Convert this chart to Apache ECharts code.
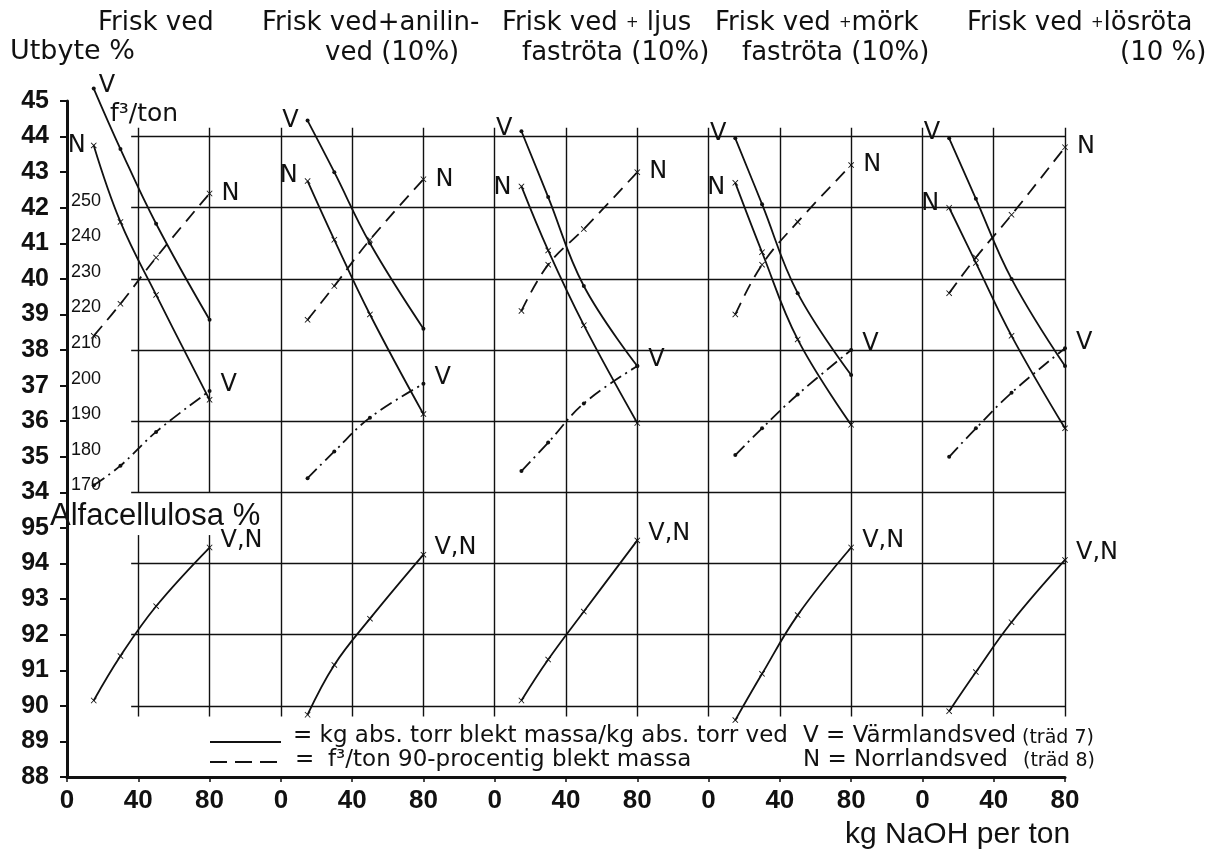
<!DOCTYPE html>
<html>
<head>
<meta charset="utf-8">
<script src="https://cdn.jsdelivr.net/npm/echarts@6/dist/echarts.min.js"></script>
<style>
  html, body { margin: 0; padding: 0; background: #ffffff; }
  #chart { width: 1222px; height: 856px; }
</style>
</head>
<body>
<div id="chart"></div>
<script>
// Each panel covers 0–80 kg NaOH; panels are laid side by side on one x axis,
// 120 units apart (80 of data + 40 of spacing).
const PANEL_SPAN = 120;

// kg NaOH per ton at which the curves are read
const naoh = [15, 30, 50, 80];

// Utbyte % (kg abs. torr blekt massa / kg abs. torr ved)
const yieldV = [ // Värmlandsved
  [45.35, 43.65, 41.55, 38.85],
  [44.45, 43.0, 41.0, 38.6],
  [44.15, 42.3, 39.8, 37.55],
  [43.95, 42.1, 39.6, 37.3],
  [43.95, 42.25, 40.0, 37.55]
];
const yieldN = [ // Norrlandsved
  [43.75, 41.6, 39.55, 36.6],
  [42.75, 41.1, 39.0, 36.2],
  [42.6, 40.8, 38.7, 35.95],
  [42.7, 40.75, 38.3, 35.9],
  [42.0, 40.45, 38.4, 35.8]
];

// f³/ton 90-procentig blekt massa
const f3N = [
  [214, 223, 236, 254],
  [218.5, 228, 241, 258],
  [221, 234, 244, 260],
  [220, 234, 246, 262],
  [226, 236, 248, 267]
];
const f3V = [
  [172, 177.5, 187, 198.5],
  [174, 181.5, 191, 200.5],
  [176, 184, 195, 205.5],
  [180.5, 188, 197.5, 210],
  [180, 188, 198, 210.5]
];

// Alfacellulosa % (V and N share one curve)
const alfa = [
  [90.15, 91.4, 92.8, 94.45],
  [89.75, 91.15, 92.45, 94.25],
  [90.15, 91.3, 92.65, 94.65],
  [89.6, 90.9, 92.55, 94.45],
  [89.85, 90.95, 92.35, 94.1]
];

// Panel headings (two lines; {p|+} is the small plus sign)
const titleLine1 = [
  'Frisk ved',
  'Frisk ved+anilin-',
  '{a|Frisk ved }{p|+}{a| ljus}',
  '{a|Frisk ved }{p|+}{a|mörk}',
  '{a|Frisk ved }{p|+}{a|lösröta}'
];
const titleLine2 = ['', 'ved (10%)', 'faströta (10%)', 'faströta (10%)', '(10 %)'];

// Tick labels on the x axis repeat for every panel
const xTickLabels = ['0', '40', '80'];

// Grid lines
const gridYield = [44, 42, 40, 38, 36, 34];          // Utbyte %
const gridAlfa = [94, 92, 90];                        // Alfacellulosa %
const gridX = [40, 80, 120, 160, 200, 240, 280, 320, 360, 400, 440, 480, 520, 560];

// ---------- layout / styling ----------
const INK = '#111111';
const titleX1 = [98, 262, 502, 715, 967];
const titleX2 = [0, 325, 522, 742, 1120];
const vStartPlacement = [
  { position: 'right', distance: 3, offset: [0, -3] },
  { position: 'left', distance: 7, offset: [0, 0] },
  { position: 'left', distance: 7, offset: [0, -2] },
  { position: 'left', distance: 7, offset: [0, -5] },
  { position: 'left', distance: 7, offset: [0, -6] }
];
const nStartPlacement = [
  { position: 'left', distance: 5, offset: [0, 0] },
  { position: 'left', distance: 7, offset: [0, -5] },
  { position: 'left', distance: 7, offset: [0, 1] },
  { position: 'left', distance: 7, offset: [0, 5] },
  { position: 'left', distance: 7, offset: [0, -4] }
];
const LABEL_FONT = { fontFamily: 'DejaVu Sans', fontSize: 24, color: INK };
const CROSS = 'path://M0,1L1,0L5,4L9,0L10,1L6,5L10,9L9,10L5,6L1,10L0,9L4,5Z';

function points(p, vals) {
  return naoh.map((x, i) => [p * PANEL_SPAN + x, vals[i]]);
}
function withLabel(pts, idx, text, place) {
  return pts.map((pt, i) => i === idx
    ? { value: pt, label: Object.assign({ show: true, formatter: text }, LABEL_FONT, place) }
    : pt);
}
function curve(name, data, yAxisIndex, dash, symbol, size) {
  return {
    name, type: 'line', data, xAxisIndex: 0, yAxisIndex,
    smooth: 0.4, clip: false,
    showSymbol: true, symbol, symbolSize: size,
    itemStyle: { color: INK },
    lineStyle: { color: INK, width: 1.8, type: dash, cap: 'butt' },
    label: { show: false },
    emphasis: { disabled: true },
    z: 3
  };
}

const series = [];
for (let p = 0; p < 5; p++) {
  series.push(curve('Utbyte V', withLabel(points(p, yieldV[p]), 0, 'V', vStartPlacement[p]), 0, 'solid', 'circle', 4));
  series.push(curve('Utbyte N', withLabel(points(p, yieldN[p]), 0, 'N', nStartPlacement[p]), 0, 'solid', CROSS, 6));
  series.push(curve('f3 N', withLabel(points(p, f3N[p]), 3, 'N', { position: 'right', distance: 9, offset: [0, 0] }), 1, [13, 8], CROSS, 6));
  series.push(curve('f3 V', withLabel(points(p, f3V[p]), 3, 'V', { position: 'right', distance: 9, offset: [0, -6] }), 1, [13, 5, 2, 5], 'circle', 4));
  series.push(curve('Alfacellulosa', withLabel(points(p, alfa[p]), 3, 'V,N', { position: 'right', distance: 8, offset: [0, -7] }), 2, 'solid', CROSS, 6));
}

// Grid lines drawn through the axes' own scales
const GRID_LEFT = 36, GRID_TOP = 44.25, GRID_GAP_TOP = 34, GRID_GAP_BOTTOM = 94.8, GRID_BOTTOM = 89.7;
const ALFA_TOP = 107; // the alfacellulosa scale value at the top of the shared axis (45 %)
function gridSeries(yAxisIndex, segments) {
  return {
    type: 'line', xAxisIndex: 0, yAxisIndex, data: [], silent: true,
    markLine: {
      silent: true, symbol: ['none', 'none'], animation: false,
      label: { show: false },
      lineStyle: { color: INK, width: 1.4, type: 'solid' },
      emphasis: { disabled: true },
      data: segments
    }
  };
}
series.push(gridSeries(0, gridYield.map(v => [{ coord: [GRID_LEFT, v] }, { coord: [560, v] }])));
series.push(gridSeries(2, gridAlfa.map(v => [{ coord: [GRID_LEFT, v] }, { coord: [560, v] }])));
const vSegments = [];
gridX.forEach(x => {
  const top = GRID_TOP + (ALFA_TOP - 45);
  if (x <= 80) {
    vSegments.push([{ coord: [x, top] }, { coord: [x, GRID_GAP_TOP + (ALFA_TOP - 45)] }]);
    vSegments.push([{ coord: [x, GRID_GAP_BOTTOM] }, { coord: [x, GRID_BOTTOM] }]);
  } else {
    vSegments.push([{ coord: [x, top] }, { coord: [x, GRID_BOTTOM] }]);
  }
});
series.push(gridSeries(2, vSegments));

// ---------- free text ----------
function text(x, y, str, font, extra) {
  return {
    type: 'text', x, y, silent: true,
    style: Object.assign({
      text: str, fill: INK, align: 'left', verticalAlign: 'middle',
      textAlign: 'left', textVerticalAlign: 'middle'
    }, font, extra || {})
  };
}
const TITLE_FONT = { fontFamily: 'DejaVu Sans', fontSize: 26 };
const TITLE_RICH = {
  a: { fontFamily: 'DejaVu Sans', fontSize: 26, fill: INK, color: INK, lineHeight: 30, verticalAlign: 'middle' },
  p: { fontFamily: 'DejaVu Sans', fontSize: 15, fill: INK, color: INK, lineHeight: 30, verticalAlign: 'middle' }
};
const graphics = [];
for (let p = 0; p < 5; p++) {
  graphics.push(text(titleX1[p], 23, titleLine1[p], TITLE_FONT, { rich: TITLE_RICH }));
  if (titleLine2[p]) graphics.push(text(titleX2[p], 53, titleLine2[p], TITLE_FONT));
}
graphics.push(text(10, 52, 'Utbyte %', { fontFamily: 'DejaVu Sans', fontSize: 27 }));
graphics.push(text(110, 114, 'f³/ton', { fontFamily: 'DejaVu Sans', fontSize: 25 }));
graphics.push(text(50, 516, 'Alfacellulosa %', { fontFamily: 'Liberation Sans', fontSize: 31 }));

// key
const KEY_FONT = { fontFamily: 'DejaVu Sans', fontSize: 23 };
const SMALL_FONT = { fontFamily: 'DejaVu Sans', fontSize: 19 };
graphics.push({ type: 'line', silent: true, shape: { x1: 210, y1: 742, x2: 281, y2: 742 }, style: { stroke: INK, lineWidth: 2 } });
graphics.push({ type: 'line', silent: true, shape: { x1: 210, y1: 762, x2: 283, y2: 762 }, style: { stroke: INK, lineWidth: 2, lineDash: [17, 8] } });
graphics.push(text(293, 736, '= kg abs. torr blekt massa/kg abs. torr ved', KEY_FONT));
graphics.push(text(295, 760, '=', KEY_FONT));
graphics.push(text(328, 760, 'f³/ton 90-procentig blekt massa', KEY_FONT));
graphics.push(text(803, 736, 'V = Värmlandsved', KEY_FONT));
graphics.push(text(1022, 738, '(träd 7)', SMALL_FONT));
graphics.push(text(803, 760, 'N = Norrlandsved', KEY_FONT));
graphics.push(text(1023, 761, '(träd 8)', SMALL_FONT));
graphics.push(text(845, 835, 'kg NaOH per ton', { fontFamily: 'Liberation Sans', fontSize: 30 }));

const AXIS_NUM = { fontFamily: 'Liberation Sans', fontWeight: 'bold', color: INK };

const option = {
  animation: false,
  backgroundColor: '#ffffff',
  grid: { left: 67, right: 157, top: 101, bottom: 79, containLabel: false },
  xAxis: {
    type: 'value', min: 0, max: 5 * PANEL_SPAN - 40, interval: 40,
    axisLine: { show: true, lineStyle: { color: INK, width: 3 } },
    axisTick: { show: true, length: 5, lineStyle: { color: INK, width: 1.5 } },
    splitLine: { show: false },
    axisLabel: Object.assign({
      fontSize: 26, margin: 11,
      formatter: v => xTickLabels[(v % PANEL_SPAN) / 40]
    }, AXIS_NUM)
  },
  yAxis: [
    { // Utbyte %
      type: 'value', min: 26, max: 45, interval: 1, position: 'left', offset: 0,
      axisLine: { show: true, onZero: false, lineStyle: { color: INK, width: 3 } },
      axisTick: { show: true, length: 7, lineStyle: { color: INK, width: 2 } },
      splitLine: { show: false },
      axisLabel: Object.assign({ fontSize: 25, margin: 18, formatter: v => v >= 34 ? String(v) : '' }, AXIS_NUM)
    },
    { // f³/ton
      type: 'value', min: 90, max: 280, interval: 10, position: 'left', offset: 0,
      axisLine: { show: false }, axisTick: { show: false }, splitLine: { show: false },
      axisLabel: {
        inside: true, margin: 4, fontSize: 18, fontFamily: 'Liberation Sans', color: INK,
        verticalAlign: 'bottom', lineHeight: 14,
        formatter: v => (v >= 170 && v <= 250) ? String(v) : ''
      }
    },
    { // Alfacellulosa %
      type: 'value', min: 88, max: ALFA_TOP, interval: 1, position: 'left', offset: 0,
      axisLine: { show: false }, axisTick: { show: false }, splitLine: { show: false },
      axisLabel: Object.assign({ fontSize: 25, margin: 18, formatter: v => v <= 95 ? String(v) : '' }, AXIS_NUM)
    }
  ],
  series,
  graphic: graphics
};

const chart = echarts.init(document.getElementById('chart'), null, { renderer: 'canvas' });
chart.setOption(option);
</script>
</body>
</html>
